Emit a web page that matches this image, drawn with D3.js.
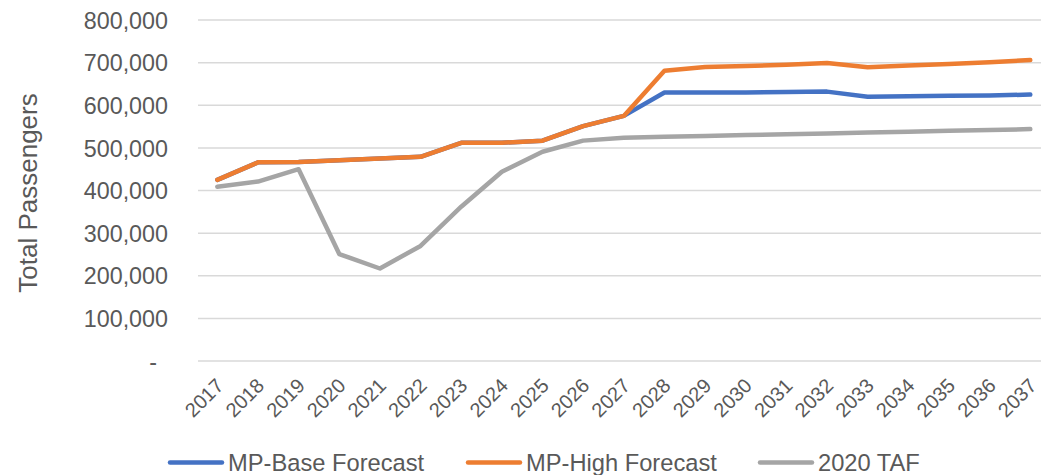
<!DOCTYPE html>
<html>
<head>
<meta charset="utf-8">
<script src="https://cdn.jsdelivr.net/npm/d3@7"></script>
<style>
  html, body { margin: 0; padding: 0; background: #fff; }
  svg { display: block; font-family: "Liberation Sans", Arial, sans-serif; }
</style>
</head>
<body>
<svg id="chart" width="1041" height="475"></svg>
<script>
const years = ["2017","2018","2019","2020","2021","2022","2023","2024","2025","2026","2027",
               "2028","2029","2030","2031","2032","2033","2034","2035","2036","2037"];
const mpBase = [425000,466000,467000,471000,475000,479000,512000,512000,517000,551000,575000,
                630000,630000,630000,631000,632000,620000,621000,622000,623000,625000];
const mpHigh = [425000,466000,467000,471000,475000,479000,512000,512000,517000,551000,575000,
                681000,690000,692000,695000,699000,689000,693000,697000,701000,706000];
const taf2020 = [409000,421000,450000,251000,217000,270000,362000,444000,491000,517000,524000,
                 526000,528000,530000,532000,534000,536000,538000,540000,542000,544000];
const yTicks = [0,100000,200000,300000,400000,500000,600000,700000,800000];
const seriesNames = ["MP-Base Forecast","MP-High Forecast","2020 TAF"];
const seriesColors = ["#4472C4","#ED7D31","#A5A5A5"];
const yTitle = "Total Passengers";

(function () {
const svg = d3.select("#chart");
const plotLeft = 197, plotRight = 1050.6, plotTop = 20, plotBottom = 361;

const x = d3.scalePoint().domain(years).range([plotLeft, plotRight]).padding(0.5);
const y = d3.scaleLinear().domain([0, 800000]).range([plotBottom, plotTop]);
const textColor = "#595959";

// gridlines
svg.append("g").selectAll("line").data(yTicks).join("line")
  .attr("x1", plotLeft + 1).attr("x2", plotRight)
  .attr("y1", d => y(d)).attr("y2", d => y(d))
  .attr("stroke", "#D9D9D9").attr("stroke-width", 1.5);

// y axis labels
const fmt = d3.format(",");
const yAxis = d3.axisLeft(y).tickValues(yTicks).tickSize(0).tickPadding(0)
  .tickFormat(d => d === 0 ? "-" : fmt(d));
const yg = svg.append("g").attr("transform", `translate(168,0)`).call(yAxis);
yg.select(".domain").remove();
yg.selectAll("text").attr("fill", textColor).style("font-size", "23.3px")
  .attr("dy", "0.35em")
  .attr("dx", d => d === 0 ? -11 : 0);

// x axis labels
const xAxis = d3.axisBottom(x).tickSize(0).tickPadding(0);
const xg = svg.append("g").attr("transform", `translate(0,${plotBottom})`).call(xAxis);
xg.select(".domain").remove();
xg.selectAll("text")
  .attr("fill", textColor).style("font-size", "20px")
  .attr("text-anchor", "end")
  .attr("y", 0).attr("dy", 0)
  .attr("transform", `translate(7,26) rotate(-45)`);
svg.selectAll("g").attr("font-family", null);

// lines
const seriesData = [mpBase, mpHigh, taf2020];
const line = d3.line().x((d, i) => x(years[i])).y(d => y(d));
[2, 0, 1].forEach(k => {
  svg.append("path").datum(seriesData[k])
    .attr("d", line)
    .attr("fill", "none")
    .attr("stroke", seriesColors[k])
    .attr("stroke-width", 4.5)
    .attr("stroke-linejoin", "round")
    .attr("stroke-linecap", "round");
});

// y title
svg.append("text")
  .attr("transform", `translate(37,193) rotate(-90)`)
  .attr("text-anchor", "middle")
  .attr("fill", textColor).style("font-size", "26px")
  .text(yTitle);

// legend
const legendX = [168, 466, 758];
const lg = svg.append("g");
seriesNames.forEach((name, i) => {
  lg.append("line")
    .attr("x1", legendX[i] + 2).attr("x2", legendX[i] + 54)
    .attr("y1", 462.5).attr("y2", 462.5)
    .attr("stroke", seriesColors[i]).attr("stroke-width", 4.5)
    .attr("stroke-linecap", "round");
  lg.append("text")
    .attr("x", legendX[i] + 60).attr("y", 471)
    .attr("fill", textColor).style("font-size", "23.7px")
    .text(name);
});
})();
</script>
</body>
</html>
